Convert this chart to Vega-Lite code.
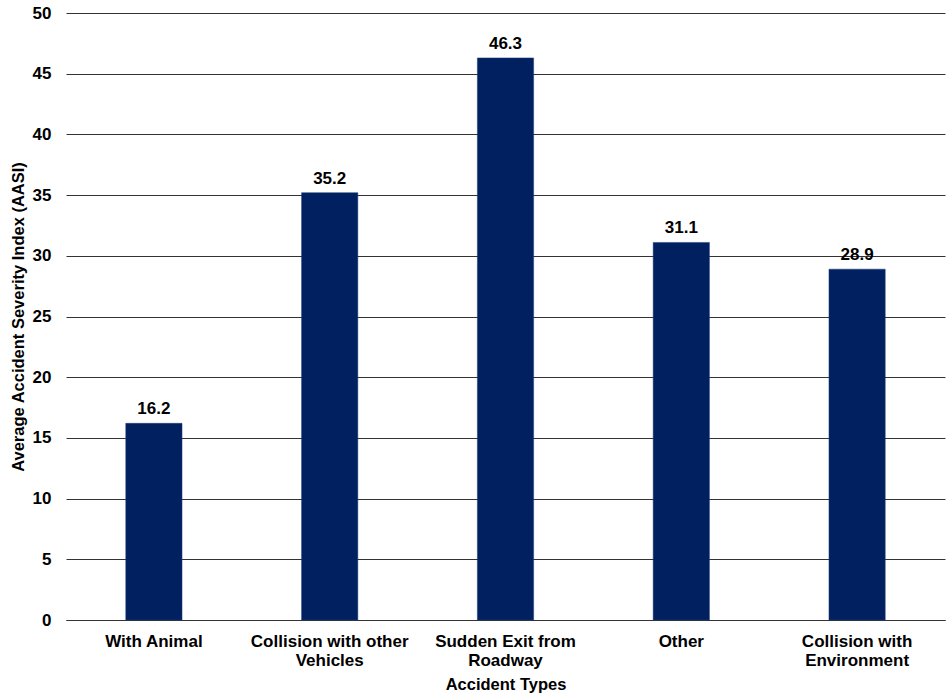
{
  "$schema": "https://vega.github.io/schema/vega-lite/v6.json",
  "autosize": {"type": "none"},
  "padding": {"left": 66, "top": 13, "right": 6, "bottom": 76},
  "width": 879,
  "height": 607,
  "background": "white",
  "config": {
    "font": "Liberation Sans",
    "view": {"stroke": null}
  },
  "data": {
    "values": [
      {"type": "With Animal", "aasi": 16.2},
      {"type": "Collision with other|Vehicles", "aasi": 35.2},
      {"type": "Sudden Exit from|Roadway", "aasi": 46.3},
      {"type": "Other", "aasi": 31.1},
      {"type": "Collision with|Environment", "aasi": 28.9}
    ]
  },
  "encoding": {
    "x": {
      "field": "type",
      "type": "nominal",
      "sort": null,
      "scale": {"paddingInner": 0.68, "paddingOuter": 0.34},
      "axis": {
        "title": "Accident Types",
        "titleFont": "Liberation Sans",
        "titleFontSize": 16.5,
        "titleFontWeight": "bold",
        "titleColor": "black",
        "titlePadding": 8,
        "labelExpr": "split(datum.label, '|')",
        "labelAngle": 0,
        "labelFont": "Liberation Sans",
        "labelFontSize": 17,
        "labelFontWeight": "bold",
        "labelColor": "black",
        "labelLineHeight": 19,
        "labelPadding": 13,
        "ticks": false,
        "domain": true,
        "domainColor": "#333333",
        "domainWidth": 1
      }
    },
    "y": {
      "field": "aasi",
      "type": "quantitative",
      "scale": {"domain": [0, 50], "nice": false},
      "axis": {
        "title": "Average Accident Severity Index (AASI)",
        "titleFont": "Liberation Sans",
        "titleFontSize": 16.5,
        "titleFontWeight": "bold",
        "titleColor": "black",
        "titlePadding": 6,
        "values": [0, 5, 10, 15, 20, 25, 30, 35, 40, 45, 50],
        "labelFont": "Liberation Sans",
        "labelFontSize": 17,
        "labelFontWeight": "bold",
        "labelColor": "black",
        "labelPadding": 15,
        "ticks": false,
        "domain": false,
        "grid": true,
        "gridColor": "#333333",
        "gridWidth": 1,
        "gridOpacity": 1
      }
    }
  },
  "layer": [
    {
      "mark": {"type": "bar", "color": "#002060", "stroke": "#1f3c7a", "strokeWidth": 0.5}
    },
    {
      "mark": {"type": "text", "baseline": "alphabetic", "dy": -9, "font": "Liberation Sans", "fontSize": 17, "fontWeight": "bold", "color": "black"},
      "encoding": {"text": {"field": "aasi", "type": "quantitative", "format": ".1f"}}
    }
  ]
}
